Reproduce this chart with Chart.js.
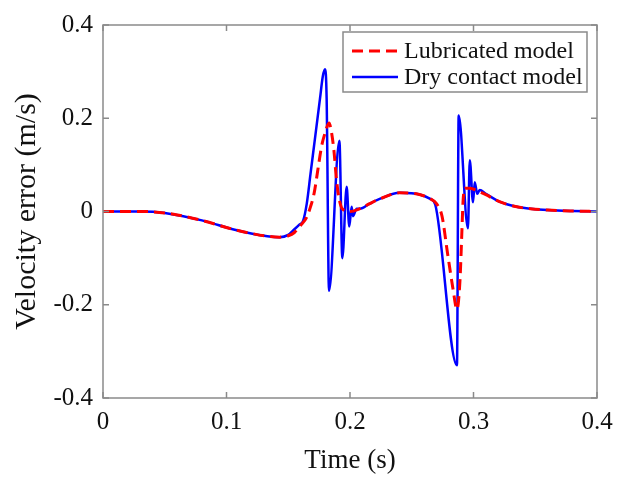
<!DOCTYPE html>
<html>
<head>
<meta charset="utf-8">
<script src="https://cdn.jsdelivr.net/npm/chart.js@4.4.1/dist/chart.umd.min.js"></script>
<style>
  body { margin: 0; background: #fff; }
  #wrap { width: 624px; height: 480px; }
</style>
</head>
<body>
<div id="wrap"><canvas id="grafico" width="624" height="480"></canvas></div>
<script>
// valores
const tempoLub = [0, 0.03, 0.05, 0.08, 0.105, 0.12, 0.133, 0.143, 0.15, 0.155, 0.16, 0.165, 0.168, 0.171, 0.174, 0.177, 0.18, 0.183, 0.185, 0.187, 0.189, 0.191, 0.194, 0.2, 0.208, 0.216, 0.225, 0.24, 0.257, 0.265, 0.27, 0.2745, 0.279, 0.2834, 0.2866, 0.289, 0.2905, 0.2915, 0.293, 0.297, 0.301, 0.31, 0.321, 0.335, 0.346, 0.36, 0.38, 0.4];
const velLub = [0, 0, -0.003, -0.019, -0.038, -0.047, -0.053, -0.055, -0.052, -0.045, -0.03, -0.012, 0.01, 0.04, 0.09, 0.14, 0.17, 0.19, 0.17, 0.13, 0.07, 0.03, 0.005, 0.0, 0.006, 0.017, 0.028, 0.04, 0.036, 0.027, 0.017, -0.01, -0.09, -0.166, -0.21, -0.15, -0.05, 0.02, 0.05, 0.05, 0.047, 0.036, 0.021, 0.01, 0.006, 0.003, 0.001, 0];

const tempoSeco = [0, 0.03, 0.05, 0.08, 0.105, 0.12, 0.133, 0.143, 0.15, 0.155, 0.159, 0.162, 0.165, 0.168, 0.1717, 0.1757, 0.178, 0.1798, 0.1811, 0.183, 0.1914, 0.1938, 0.1973, 0.1994, 0.2013, 0.2024, 0.2054, 0.208, 0.216, 0.225, 0.24, 0.257, 0.265, 0.269, 0.2866, 0.288, 0.2955, 0.297, 0.2996, 0.301, 0.303, 0.305, 0.31, 0.321, 0.335, 0.346, 0.36, 0.38, 0.4];
const velSeco = [0, 0, -0.003, -0.019, -0.038, -0.047, -0.053, -0.055, -0.05, -0.038, -0.028, -0.02, 0.017, 0.08, 0.158, 0.242, 0.29, 0.305, 0.24, -0.17, 0.152, -0.10, 0.053, -0.032, 0.01, -0.01, 0.006, 0.006, 0.017, 0.028, 0.04, 0.036, 0.027, 0.015, -0.33, 0.206, -0.036, 0.11, 0.02, 0.063, 0.038, 0.046, 0.038, 0.021, 0.01, 0.006, 0.003, 0.001, 0];

const xTickLabels = ["0", "0.1", "0.2", "0.3", "0.4"];
const yTickLabels = ["-0.4", "-0.2", "0", "0.2", "0.4"];

const fonte = "'Liberation Serif', 'Times New Roman', serif";

function pares(xs, ys) {
  return xs.map((x, i) => ({ x: x, y: ys[i] }));
}

// caixa cinza, marcas internas e legenda
const caixaPlugin = {
  id: "caixa",
  afterDraw(chart) {
    const ctx = chart.ctx;
    const a = chart.chartArea;
    const sx = chart.scales.x;
    const sy = chart.scales.y;
    ctx.save();
    ctx.strokeStyle = "#8a8a8a";
    ctx.lineWidth = 1.5;
    ctx.strokeRect(a.left, a.top, a.right - a.left, a.bottom - a.top);
    ctx.beginPath();
    sx.ticks.forEach((t) => {
      const px = sx.getPixelForValue(t.value);
      ctx.moveTo(px, a.bottom); ctx.lineTo(px, a.bottom - 6);
      ctx.moveTo(px, a.top); ctx.lineTo(px, a.top + 6);
    });
    sy.ticks.forEach((t) => {
      const py = sy.getPixelForValue(t.value);
      ctx.moveTo(a.left, py); ctx.lineTo(a.left + 6, py);
      ctx.moveTo(a.right, py); ctx.lineTo(a.right - 6, py);
    });
    ctx.stroke();

    // legenda
    const lx = 343, ly = 32, lw = 244, lh = 60;
    ctx.fillStyle = "#fff";
    ctx.fillRect(lx, ly, lw, lh);
    ctx.strokeStyle = "#8a8a8a";
    ctx.lineWidth = 1.5;
    ctx.strokeRect(lx, ly, lw, lh);
    const linhas = [51, 77];
    chart.data.datasets.forEach((ds, i) => {
      const y = linhas[i];
      ctx.beginPath();
      ctx.strokeStyle = ds.borderColor;
      ctx.lineWidth = ds.borderWidth;
      ctx.setLineDash(ds.borderDash || []);
      ctx.moveTo(352, y); ctx.lineTo(398, y);
      ctx.stroke();
      ctx.setLineDash([]);
      ctx.fillStyle = "#111";
      ctx.font = "24px " + fonte;
      ctx.textBaseline = "middle";
      ctx.fillText(ds.label, 404, y + 1);
    });
    ctx.restore();
  }
};

const ctx = document.getElementById("grafico").getContext("2d");
let myChart = new Chart(ctx, {
  type: "line",
  data: {
    datasets: [
      {
        label: "Lubricated model",
        data: pares(tempoLub, velLub),
        borderColor: "#ff0000",
        borderWidth: 3,
        borderDash: [11, 6],
        pointRadius: 0,
        cubicInterpolationMode: "monotone",
        order: 1,
      },
      {
        label: "Dry contact model",
        data: pares(tempoSeco, velSeco),
        borderColor: "#0000ff",
        borderWidth: 2.5,
        pointRadius: 0,
        cubicInterpolationMode: "monotone",
        order: 2,
      },
    ],
  },
  options: {
    responsive: false,
    animation: false,
    devicePixelRatio: 1,
    layout: { padding: { top: 18, right: 27, left: 0, bottom: 0 } },
    plugins: {
      legend: { display: false },
      tooltip: { enabled: false },
    },
    scales: {
      x: {
        type: "linear",
        min: 0,
        max: 0.4,
        ticks: {
          stepSize: 0.1,
          padding: 9,
          color: "#111",
          font: { family: fonte, size: 25 },
          maxRotation: 0,
          callback: (v, i) => xTickLabels[i],
        },
        grid: { display: false, drawTicks: false },
        border: { display: false },
        title: {
          display: true,
          text: "Time (s)",
          color: "#111",
          font: { family: fonte, size: 27 },
          padding: { top: 0, bottom: 3 },
        },
        afterFit: (scale) => { scale.height = 82; },
      },
      y: {
        min: -0.4,
        max: 0.4,
        ticks: {
          stepSize: 0.2,
          padding: 10,
          color: "#111",
          font: { family: fonte, size: 25 },
          callback: (v, i) => yTickLabels[i],
        },
        grid: { display: false, drawTicks: false },
        border: { display: false },
        title: {
          display: true,
          text: "Velocity error (m/s)",
          color: "#111",
          font: { family: fonte, size: 30 },
          padding: { top: 9, bottom: 0 },
        },
        afterFit: (scale) => { scale.width = 103; },
      },
    },
  },
  plugins: [caixaPlugin],
});
</script>
</body>
</html>
